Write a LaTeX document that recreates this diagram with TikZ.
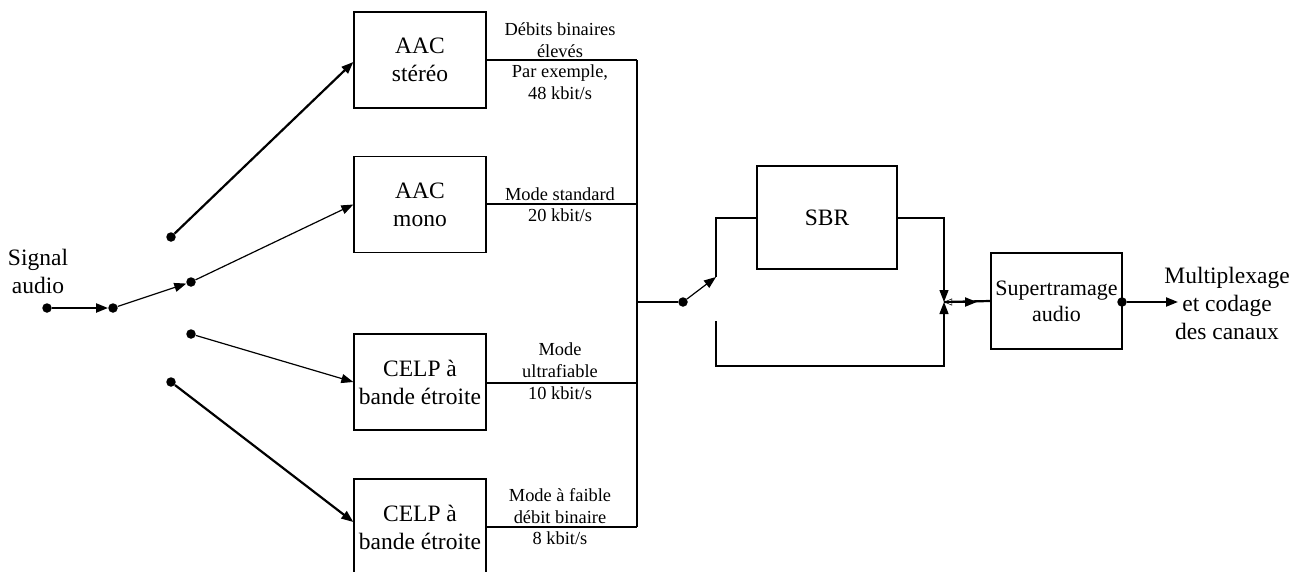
\documentclass[tikz,border=0pt]{standalone}
\usepackage{fontspec}
\setmainfont{Liberation Serif}
\usetikzlibrary{arrows.meta,calc}
\begin{document}
\begin{tikzpicture}[x=1pt,y=-1pt,
  box/.style={draw, line width=1.3pt, minimum width=132pt, minimum height=96pt, inner sep=0pt, align=center, font=\fontsize{23.5}{28}\selectfont},
  lbl/.style={align=center, font=\fontsize{18.4}{21.5}\selectfont, inner sep=0pt},
  big/.style={align=center, font=\fontsize{23.5}{28}\selectfont, inner sep=0pt},
  dot/.style={circle, fill, inner sep=0pt, minimum size=9.5pt},
  thinln/.style={line width=1.2pt},
  thickln/.style={line width=2.2pt},
  tip/.style={-{Triangle[length=12pt,width=9pt]}},
]
\useasboundingbox (0,0) rectangle (1294,571);
\clip (0,0) rectangle (1294,571);

% boxes
\node[box] (st) at (420,60) {AAC\\st\'er\'eo};
\node[box] (mo) at (420,204.5) {AAC\\mono};
\node[box] (c1) at (420,382) {CELP \`a\\bande \'etroite};
\node[box] (c2) at (420,527) {CELP \`a\\bande \'etroite};
\node[box, minimum width=140pt, minimum height=103pt] (sbr) at (827,217.5) {SBR};
\node[box, minimum width=131pt, minimum height=96pt, font=\fontsize{22}{26}\selectfont] (sup) at (1056.5,301) {Supertramage\\audio};

% texts
\node[big] (sig) at (38,271) {Signal\\audio};
\node[big] (mux) at (1227,303) {Multiplexage\\et codage\\des canaux};
\node[lbl] (l1a) at (560,40) {D\'ebits binaires\\\'elev\'es};
\node[lbl] (l1b) at (560,82) {Par exemple,\\48 kbit/s};
\node[lbl] (l2a) at (560,194) {Mode standard};
\node[lbl] (l2b) at (560,215) {20 kbit/s};
\node[lbl] (l3a) at (560,360) {Mode\\ultrafiable};
\node[lbl] (l3b) at (560,393) {10 kbit/s};
\node[lbl] (l4a) at (560,506) {Mode \`a faible\\d\'ebit binaire};
\node[lbl] (l4b) at (560,538) {8 kbit/s};

% dots
\node[dot] (in) at (47,308) {};
\node[dot] (d2) at (113,308) {};
\node[dot] (d3) at (191,282) {};
\node[dot] (ps) at (171,237) {};
\node[dot] (pc1) at (191,334) {};
\node[dot] (pc2) at (171,382) {};
\node[dot] (sw) at (683,302) {};
\node[dot] (od) at (1122,302) {};

% coordinates
\coordinate (b1) at (637,60);
\coordinate (b2) at (637,204);
\coordinate (b3) at (637,383);
\coordinate (b4) at (637,527);
\coordinate (bsw) at (637,302);
\coordinate (swt) at (716,277);
\coordinate (su) at (716,218);
\coordinate (sl) at (716,321);
\coordinate (sll) at (716,366);
\coordinate (srl) at (944,366);
\coordinate (sru) at (944,218);
\coordinate (j) at (944,302);
\coordinate (jo) at (955,302);
\coordinate (jm) at (977,302);
\coordinate (out) at (1178,302);

% input side
\draw[thickln, tip] (in) -- (d2);
\draw[thinln, tip] (d2) -- (d3);
\draw[thinln, tip] (d3) -- (mo.west);
\draw[thickln, tip] (ps) -- ($(st.west)+(0,2)$);
\draw[thinln, tip] (pc1) -- (c1.west);
\draw[thickln, tip] (pc2) -- ($(c2.west)+(0,-5)$);

% outputs to bus
\draw[thinln] (st.east |- b1) -- (b1);
\draw[thickln] (mo.east |- b2) -- (b2);
\draw[thickln] (c1.east |- b3) -- (b3);
\draw[thinln] (c2.east |- b4) -- (b4);
\draw[line width=1.5pt] (b1) -- (b4);

% switch
\draw[thickln] (bsw) -- (sw);
\draw[thinln, tip] (sw) -- (swt);
\draw[thinln] (swt) -- (su) -- (sbr.west |- su);
\draw[thinln, tip] (sbr.east |- sru) -- (sru) -- (j);
\draw[thinln, tip] (sl) -- (sll) -- (srl) -- (j);
\draw[line width=0.5pt, {Triangle[open,length=8pt,width=7pt]}-] (j) -- (jo);
\draw[thickln] (j) -- (sup.west);
\draw[thickln, tip] (jo) -- (jm);

% output
\draw[thickln, tip] (od) -- (out);
\end{tikzpicture}
\end{document}
